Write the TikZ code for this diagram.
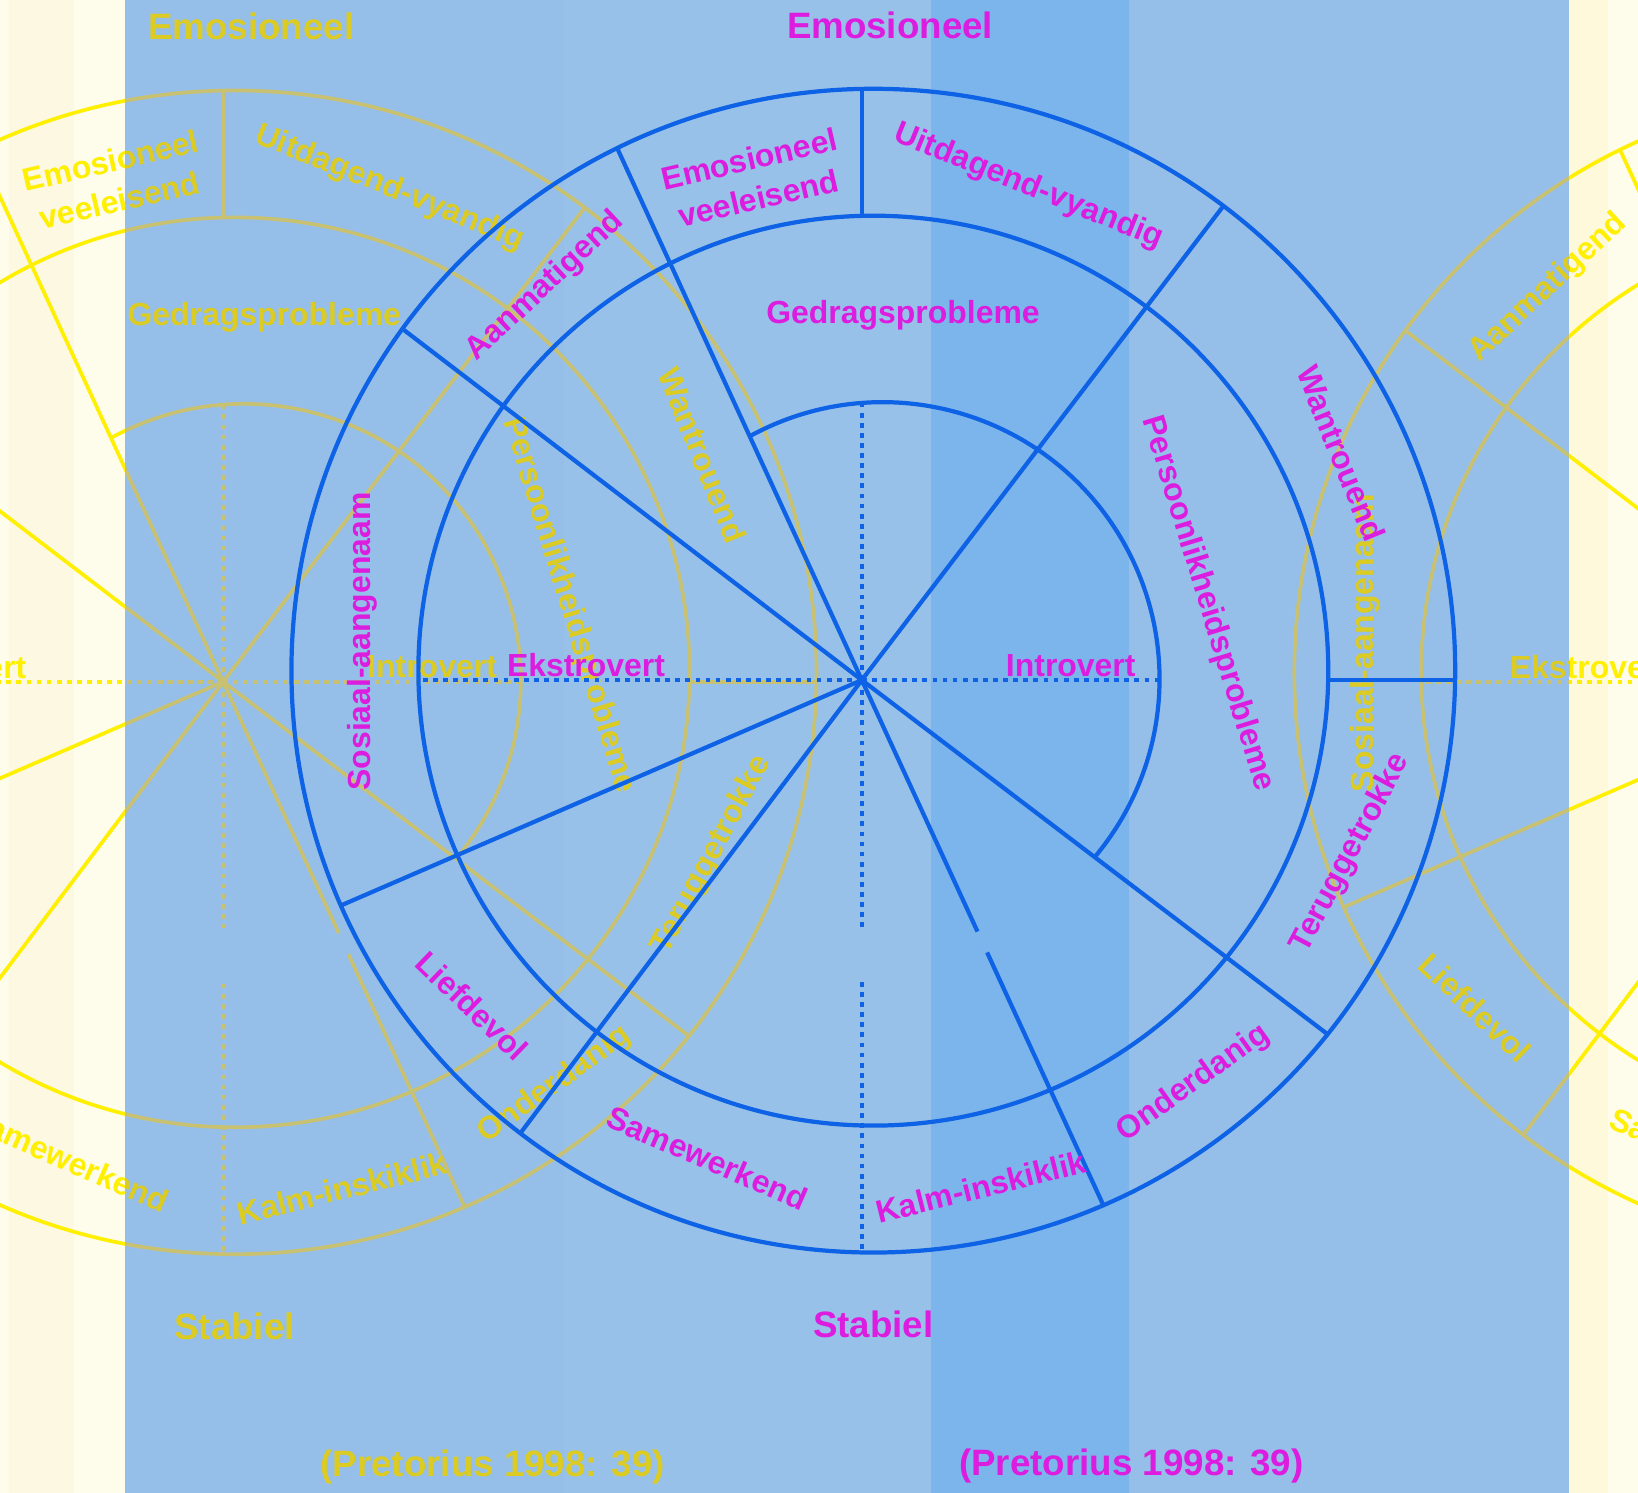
\documentclass[tikz,border=0pt]{standalone}
\usepackage{fontspec}
\setmainfont{Liberation Sans}
\usetikzlibrary{positioning}
\definecolor{cream}{HTML}{FEFCEA}
\definecolor{creamband}{HTML}{FCF8E1}
\definecolor{creamright}{HTML}{FFF9DC}
\definecolor{panel}{HTML}{95BFE8}
\definecolor{panellight}{HTML}{98C1E9}
\definecolor{stripe}{HTML}{7CB5EC}
\definecolor{ink}{HTML}{0E62E6}
\definecolor{pink}{HTML}{DC1CDE}
\definecolor{ghostline}{HTML}{C9C172}
\definecolor{ghosttext}{HTML}{DBCB22}
\definecolor{ghostbright}{HTML}{FFEF00}
\tikzset{
  lbl/.style={font=\fontsize{8.7}{11}\selectfont\bfseries, inner sep=0pt, align=center},
  ttl/.style={font=\fontsize{10}{12}\selectfont\bfseries, inner sep=0pt},
  dotline/.style={dash pattern=on 1.3pt off 1.45pt},
}
\begin{document}
\begin{tikzpicture}
  \useasboundingbox (-8.25,-7.78) rectangle (7.43,6.51);
  % paper and blue panel
  \fill[cream] (-8.25,-7.78) rectangle (7.43,6.51);
  \fill[creamband] (-8.16,-7.78) rectangle (-7.54,6.51);
  \fill[creamright] (6.75,-7.78) rectangle (7.14,6.51);
  \fill[panel] (-7.05,-7.78) rectangle (6.77,6.51);
  \fill[panellight] (-2.85,-7.78) rectangle (0.66,6.51);
  \fill[stripe] (0.66,-7.78) rectangle (2.56,6.51);

  % \wheel{line colour}{text colour}{line width}{name prefix}
  \newcommand{\wheel}[4]{
    \begin{scope}[draw=#1, line width=#3]
      \draw (0.11,0.09) circle[radius=5.57];
      \draw (0.11,0.09) circle[radius=4.355];
      \draw ([shift={(118.7:2.65)}]0.20,0.01) arc[start angle=118.7, end angle=-40, radius=2.65];
      \foreach \ang/\len in {52.67/5.708, 142.6/5.537, 114.7/5.606, 203.4/5.433, 233/5.432, -37.25/5.603}
        \draw (0,0) -- (\ang:\len);
      \draw (0,0) -- (-65.3:2.65) (-65.3:2.87) -- (-65.3:5.534);
      \draw (90:4.444) -- (90:5.66) (0:4.464) -- (0:5.68);
      \draw[dotline] (0,0) -- (90:2.652) (0,0) -- (0:2.85) (0,0) -- (180:4.244)
        (0,0) -- (-90:2.36) (-90:2.89) -- (-90:5.48);
    \end{scope}
    \begin{scope}[text=#2]
      \node[ttl] (#4emo) at (0.27,6.27) {Emosioneel};
      \node[ttl] (#4stab) at (0.11,-6.17) {Stabiel};
      \node[ttl] (#4src) at (2.58,-7.52) {(Pretorius 1998: 39)};
      \node[lbl, rotate=13] (#4veel) at (-1.035,4.80) {Emosioneel\\veeleisend};
      \node[lbl, rotate=-22] (#4uit) at (1.595,4.723) {Uitdagend-vyandig};
      \node[lbl, rotate=43] (#4aan) at (-3.03,3.77) {Aanmatigend};
      \node[lbl, rotate=90] (#4sos) at (-4.78,0.37) {Sosiaal-aangenaam};
      \node[lbl, rotate=-44] (#4lief) at (-3.73,-3.12) {Liefdevol};
      \node[lbl, rotate=-23.5] (#4same) at (-1.48,-4.576) {Samewerkend};
      \node[lbl, rotate=14] (#4kalm) at (1.14,-4.85) {Kalm-inskiklik};
      \node[lbl, rotate=35.6] (#4onder) at (3.174,-3.86) {Onderdanig};
      \node[lbl, rotate=62] (#4terug) at (4.678,-1.659) {Teruggetrokke};
      \node[lbl, rotate=-68] (#4wan) at (4.59,2.17) {Wantrouend};
      \node[lbl, rotate=-73] (#4pers) at (3.31,0.73) {Persoonlikheidsprobleme};
      \node[lbl] (#4gedrag) at (0.394,3.49) {Gedragsprobleme};
      \node[lbl] (#4intro) at (2.00,0.14) {Introvert};
      \node[lbl] (#4ekstro) at (-2.64,0.14) {Ekstrovert};
    \end{scope}}

  % yellow ghost print, shifted copies
  \begin{scope}
    \clip (-8.25,-7.78) rectangle (-7.05,6.51) (6.77,-7.78) rectangle (7.43,6.51);
    \begin{scope}[xshift=-6.114cm, yshift=-0.016cm] \wheel{ghostbright}{ghostbright}{1pt}{ga} \end{scope}
    \begin{scope}[xshift=9.60cm, yshift=-0.016cm] \wheel{ghostbright}{ghostbright}{1pt}{gb} \end{scope}
  \end{scope}
  \begin{scope}
    \clip (-7.05,-7.78) rectangle (6.77,6.51);
    \begin{scope}[xshift=-6.114cm, yshift=-0.016cm] \wheel{ghostline}{ghosttext}{1pt}{gc} \end{scope}
    \begin{scope}[xshift=9.60cm, yshift=-0.016cm] \wheel{ghostline}{ghosttext}{1pt}{gd} \end{scope}
  \end{scope}

  % main wheel
  \wheel{ink}{pink}{1.15pt}{m}
\end{tikzpicture}
\end{document}
